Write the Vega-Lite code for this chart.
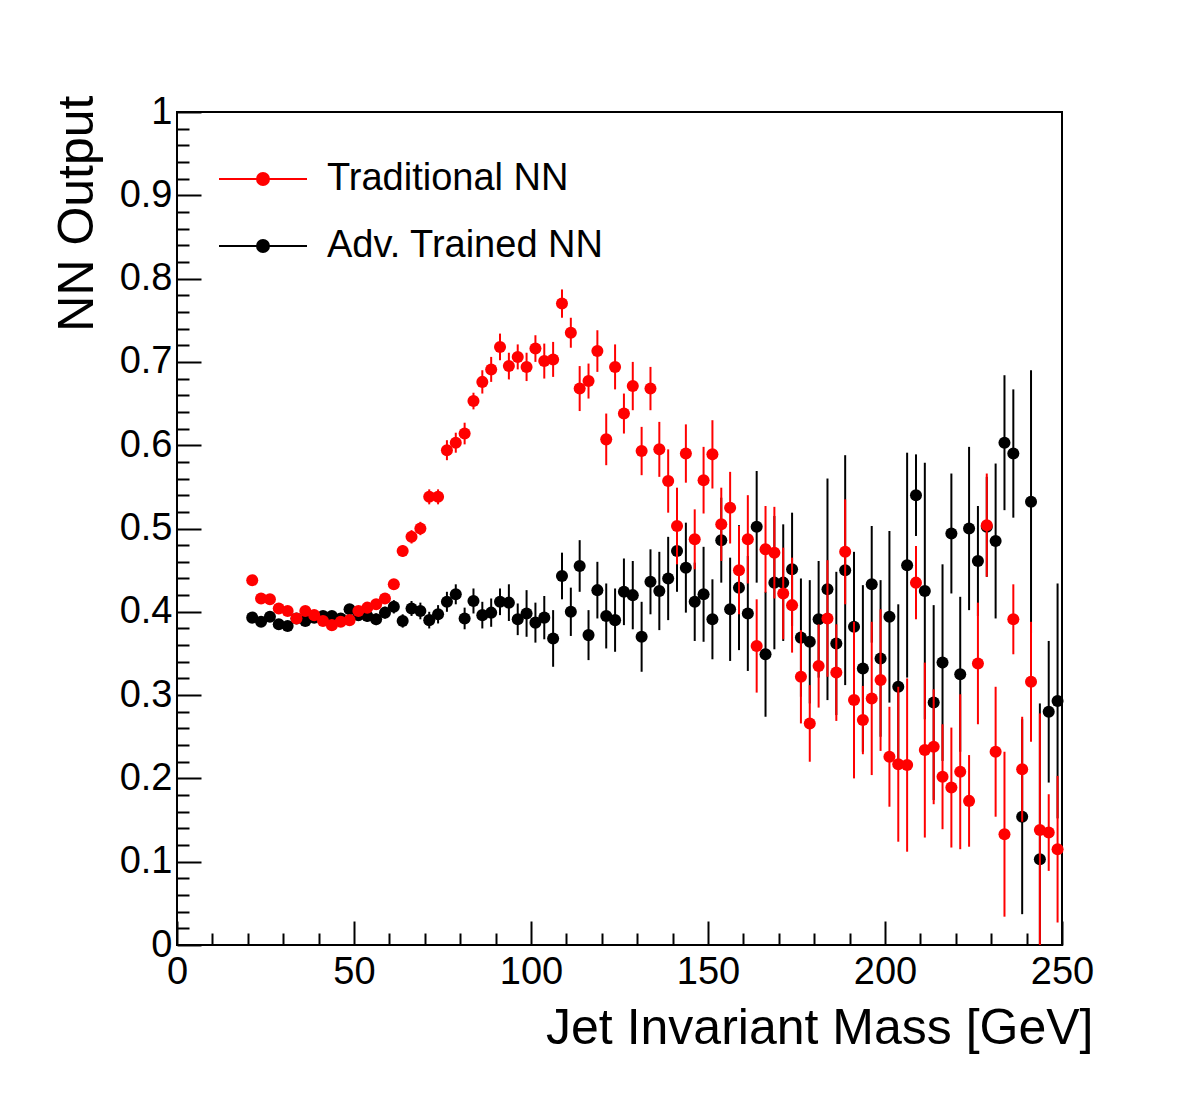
{
  "$schema": "https://vega.github.io/schema/vega-lite/v6.json",
  "width": 885,
  "height": 833,
  "autosize": {"type": "none"},
  "padding": {"left": 177, "top": 112, "right": 120, "bottom": 168},
  "background": "white",
  "config": {
    "font": "Liberation Sans",
    "view": {"stroke": "#000000", "strokeWidth": 2},
    "axis": {
      "grid": false,
      "domain": false,
      "tickColor": "#000000",
      "tickWidth": 2,
      "labelColor": "#000000",
      "titleColor": "#000000",
      "labelFont": "Liberation Sans",
      "titleFont": "Liberation Sans",
      "labelFontSize": 38,
      "titleFontSize": 50,
      "titleFontWeight": "normal",
      "labelOverlap": false,
      "labelBound": false,
      "labelFlush": false
    }
  },
  "datasets": {
    "trad": [
      {"m": 21.25, "v": 0.438, "e": 0.004}, {"m": 23.75, "v": 0.416, "e": 0.004}, {"m": 26.25, "v": 0.415, "e": 0.004},
      {"m": 28.75, "v": 0.404, "e": 0.004}, {"m": 31.25, "v": 0.401, "e": 0.004}, {"m": 33.75, "v": 0.392, "e": 0.004},
      {"m": 36.25, "v": 0.401, "e": 0.004}, {"m": 38.75, "v": 0.396, "e": 0.004}, {"m": 41.25, "v": 0.389, "e": 0.004},
      {"m": 43.75, "v": 0.384, "e": 0.005}, {"m": 46.25, "v": 0.388, "e": 0.005}, {"m": 48.75, "v": 0.390, "e": 0.005},
      {"m": 51.25, "v": 0.401, "e": 0.005}, {"m": 53.75, "v": 0.405, "e": 0.005}, {"m": 56.25, "v": 0.409, "e": 0.005},
      {"m": 58.75, "v": 0.416, "e": 0.006}, {"m": 61.25, "v": 0.433, "e": 0.006}, {"m": 63.75, "v": 0.473, "e": 0.007},
      {"m": 66.25, "v": 0.490, "e": 0.008}, {"m": 68.75, "v": 0.500, "e": 0.008}, {"m": 71.25, "v": 0.538, "e": 0.009},
      {"m": 73.75, "v": 0.538, "e": 0.009}, {"m": 76.25, "v": 0.594, "e": 0.012}, {"m": 78.75, "v": 0.603, "e": 0.012},
      {"m": 81.25, "v": 0.614, "e": 0.013}, {"m": 83.75, "v": 0.653, "e": 0.010}, {"m": 86.25, "v": 0.676, "e": 0.014},
      {"m": 88.75, "v": 0.691, "e": 0.015}, {"m": 91.25, "v": 0.718, "e": 0.016}, {"m": 93.75, "v": 0.695, "e": 0.016},
      {"m": 96.25, "v": 0.706, "e": 0.015}, {"m": 98.75, "v": 0.694, "e": 0.017}, {"m": 101.25, "v": 0.716, "e": 0.016},
      {"m": 103.75, "v": 0.701, "e": 0.021}, {"m": 106.25, "v": 0.703, "e": 0.021}, {"m": 108.75, "v": 0.770, "e": 0.017},
      {"m": 111.25, "v": 0.735, "e": 0.018}, {"m": 113.75, "v": 0.668, "e": 0.027}, {"m": 116.25, "v": 0.677, "e": 0.021},
      {"m": 118.75, "v": 0.713, "e": 0.025}, {"m": 121.25, "v": 0.607, "e": 0.031}, {"m": 123.75, "v": 0.694, "e": 0.027},
      {"m": 126.25, "v": 0.638, "e": 0.024}, {"m": 128.75, "v": 0.671, "e": 0.029}, {"m": 131.25, "v": 0.593, "e": 0.029},
      {"m": 133.75, "v": 0.668, "e": 0.026}, {"m": 136.25, "v": 0.595, "e": 0.033}, {"m": 138.75, "v": 0.557, "e": 0.038},
      {"m": 141.25, "v": 0.503, "e": 0.046}, {"m": 143.75, "v": 0.590, "e": 0.035}, {"m": 146.25, "v": 0.487, "e": 0.036},
      {"m": 148.75, "v": 0.558, "e": 0.040}, {"m": 151.25, "v": 0.589, "e": 0.041}, {"m": 153.75, "v": 0.505, "e": 0.044},
      {"m": 156.25, "v": 0.525, "e": 0.043}, {"m": 158.75, "v": 0.450, "e": 0.053}, {"m": 161.25, "v": 0.487, "e": 0.053},
      {"m": 163.75, "v": 0.359, "e": 0.056}, {"m": 166.25, "v": 0.475, "e": 0.052}, {"m": 168.75, "v": 0.471, "e": 0.055},
      {"m": 171.25, "v": 0.422, "e": 0.055}, {"m": 173.75, "v": 0.408, "e": 0.057}, {"m": 176.25, "v": 0.322, "e": 0.056},
      {"m": 178.75, "v": 0.266, "e": 0.046}, {"m": 181.25, "v": 0.335, "e": 0.050}, {"m": 183.75, "v": 0.392, "e": 0.070},
      {"m": 186.25, "v": 0.327, "e": 0.058}, {"m": 188.75, "v": 0.472, "e": 0.063}, {"m": 191.25, "v": 0.294, "e": 0.094},
      {"m": 193.75, "v": 0.270, "e": 0.041}, {"m": 196.25, "v": 0.296, "e": 0.092}, {"m": 198.75, "v": 0.318, "e": 0.085},
      {"m": 201.25, "v": 0.226, "e": 0.060}, {"m": 203.75, "v": 0.217, "e": 0.093}, {"m": 206.25, "v": 0.216, "e": 0.104},
      {"m": 208.75, "v": 0.435, "e": 0.044}, {"m": 211.25, "v": 0.234, "e": 0.105}, {"m": 213.75, "v": 0.238, "e": 0.069},
      {"m": 216.25, "v": 0.202, "e": 0.063}, {"m": 218.75, "v": 0.189, "e": 0.072}, {"m": 221.25, "v": 0.208, "e": 0.093},
      {"m": 223.75, "v": 0.173, "e": 0.055}, {"m": 226.25, "v": 0.338, "e": 0.073}, {"m": 228.75, "v": 0.504, "e": 0.062},
      {"m": 231.25, "v": 0.232, "e": 0.078}, {"m": 233.75, "v": 0.133, "e": 0.099}, {"m": 236.25, "v": 0.391, "e": 0.042},
      {"m": 238.75, "v": 0.211, "e": 0.063}, {"m": 241.25, "v": 0.316, "e": 0.072}, {"m": 243.75, "v": 0.138, "e": 0.140},
      {"m": 246.25, "v": 0.135, "e": 0.046}, {"m": 248.75, "v": 0.115, "e": 0.088}
    ],
    "adv": [
      {"m": 21.25, "v": 0.393, "e": 0.004}, {"m": 23.75, "v": 0.388, "e": 0.004}, {"m": 26.25, "v": 0.394, "e": 0.004},
      {"m": 28.75, "v": 0.385, "e": 0.004}, {"m": 31.25, "v": 0.383, "e": 0.005}, {"m": 33.75, "v": 0.392, "e": 0.005},
      {"m": 36.25, "v": 0.389, "e": 0.005}, {"m": 38.75, "v": 0.393, "e": 0.005}, {"m": 41.25, "v": 0.395, "e": 0.006},
      {"m": 43.75, "v": 0.395, "e": 0.006}, {"m": 46.25, "v": 0.392, "e": 0.006}, {"m": 48.75, "v": 0.403, "e": 0.006},
      {"m": 51.25, "v": 0.396, "e": 0.006}, {"m": 53.75, "v": 0.395, "e": 0.007}, {"m": 56.25, "v": 0.391, "e": 0.007},
      {"m": 58.75, "v": 0.399, "e": 0.007}, {"m": 61.25, "v": 0.406, "e": 0.008}, {"m": 63.75, "v": 0.389, "e": 0.008},
      {"m": 66.25, "v": 0.404, "e": 0.009}, {"m": 68.75, "v": 0.401, "e": 0.010}, {"m": 71.25, "v": 0.390, "e": 0.010},
      {"m": 73.75, "v": 0.397, "e": 0.011}, {"m": 76.25, "v": 0.412, "e": 0.012}, {"m": 78.75, "v": 0.421, "e": 0.012},
      {"m": 81.25, "v": 0.392, "e": 0.013}, {"m": 83.75, "v": 0.413, "e": 0.015}, {"m": 86.25, "v": 0.396, "e": 0.016},
      {"m": 88.75, "v": 0.399, "e": 0.017}, {"m": 91.25, "v": 0.412, "e": 0.016}, {"m": 93.75, "v": 0.411, "e": 0.022},
      {"m": 96.25, "v": 0.391, "e": 0.019}, {"m": 98.75, "v": 0.398, "e": 0.028}, {"m": 101.25, "v": 0.387, "e": 0.024},
      {"m": 103.75, "v": 0.393, "e": 0.026}, {"m": 106.25, "v": 0.368, "e": 0.034}, {"m": 108.75, "v": 0.443, "e": 0.028},
      {"m": 111.25, "v": 0.400, "e": 0.029}, {"m": 113.75, "v": 0.455, "e": 0.031}, {"m": 116.25, "v": 0.372, "e": 0.030},
      {"m": 118.75, "v": 0.426, "e": 0.034}, {"m": 121.25, "v": 0.395, "e": 0.039}, {"m": 123.75, "v": 0.390, "e": 0.038},
      {"m": 126.25, "v": 0.424, "e": 0.040}, {"m": 128.75, "v": 0.420, "e": 0.041}, {"m": 131.25, "v": 0.370, "e": 0.042},
      {"m": 133.75, "v": 0.436, "e": 0.039}, {"m": 136.25, "v": 0.425, "e": 0.047}, {"m": 138.75, "v": 0.440, "e": 0.050},
      {"m": 141.25, "v": 0.473, "e": 0.049}, {"m": 143.75, "v": 0.453, "e": 0.054}, {"m": 146.25, "v": 0.412, "e": 0.047},
      {"m": 148.75, "v": 0.421, "e": 0.057}, {"m": 151.25, "v": 0.391, "e": 0.048}, {"m": 153.75, "v": 0.486, "e": 0.051},
      {"m": 156.25, "v": 0.403, "e": 0.062}, {"m": 158.75, "v": 0.429, "e": 0.075}, {"m": 161.25, "v": 0.398, "e": 0.069},
      {"m": 163.75, "v": 0.502, "e": 0.067}, {"m": 166.25, "v": 0.349, "e": 0.075}, {"m": 168.75, "v": 0.435, "e": 0.080},
      {"m": 171.25, "v": 0.435, "e": 0.070}, {"m": 173.75, "v": 0.451, "e": 0.068}, {"m": 176.25, "v": 0.369, "e": 0.071},
      {"m": 178.75, "v": 0.364, "e": 0.074}, {"m": 181.25, "v": 0.391, "e": 0.070}, {"m": 183.75, "v": 0.427, "e": 0.133},
      {"m": 186.25, "v": 0.362, "e": 0.086}, {"m": 188.75, "v": 0.450, "e": 0.138}, {"m": 191.25, "v": 0.382, "e": 0.090},
      {"m": 193.75, "v": 0.332, "e": 0.100}, {"m": 196.25, "v": 0.433, "e": 0.070}, {"m": 198.75, "v": 0.344, "e": 0.094},
      {"m": 201.25, "v": 0.394, "e": 0.103}, {"m": 203.75, "v": 0.310, "e": 0.099}, {"m": 206.25, "v": 0.456, "e": 0.135},
      {"m": 208.75, "v": 0.540, "e": 0.049}, {"m": 211.25, "v": 0.425, "e": 0.154}, {"m": 213.75, "v": 0.291, "e": 0.117},
      {"m": 216.25, "v": 0.339, "e": 0.118}, {"m": 218.75, "v": 0.494, "e": 0.072}, {"m": 221.25, "v": 0.325, "e": 0.093},
      {"m": 223.75, "v": 0.500, "e": 0.098}, {"m": 226.25, "v": 0.461, "e": 0.066}, {"m": 228.75, "v": 0.502, "e": 0.060},
      {"m": 231.25, "v": 0.485, "e": 0.093}, {"m": 233.75, "v": 0.603, "e": 0.081}, {"m": 236.25, "v": 0.590, "e": 0.077},
      {"m": 238.75, "v": 0.154, "e": 0.117}, {"m": 241.25, "v": 0.532, "e": 0.158}, {"m": 243.75, "v": 0.103, "e": 0.187},
      {"m": 246.25, "v": 0.280, "e": 0.085}, {"m": 248.75, "v": 0.293, "e": 0.141}
    ]
  },
  "layer": [
    {
      "data": {"name": "adv"},
      "mark": {"type": "errorbar", "thickness": 2},
      "encoding": {
        "x": {"field": "m", "type": "quantitative", "scale": {"domain": [0, 250], "nice": false}, "axis": null},
        "y": {"field": "v", "type": "quantitative", "scale": {"domain": [0, 1], "nice": false, "clamp": true}, "axis": null},
        "yError": {"field": "e"},
        "color": {
          "datum": "Adv. Trained NN",
          "scale": {"domain": ["Traditional NN", "Adv. Trained NN"], "range": ["#ff0000", "#000000"]},
          "legend": {
            "orient": "none",
            "legendX": 50,
            "legendY": 31,
            "title": null,
            "padding": 15,
            "rowPadding": 27,
            "symbolType": "M-2.2,0L2.2,0M0.3,0A0.3,0.3,0,1,1,-0.3,0A0.3,0.3,0,1,1,0.3,0Z",
            "symbolSize": 1600,
            "symbolStrokeWidth": 2,
            "labelFont": "Liberation Sans",
            "labelFontSize": 38,
            "labelColor": "#000000",
            "labelOffset": 43,
            "labelLimit": 500,
            "encode": {
              "symbols": {
                "update": {
                  "stroke": {"scale": "color", "field": "value"},
                  "fill": {"scale": "color", "field": "value"},
                  "opacity": {"value": 1}
                }
              }
            }
          }
        }
      }
    },
    {
      "data": {"name": "adv"},
      "mark": {"type": "point", "filled": true, "size": 145, "opacity": 1, "shape": "circle"},
      "encoding": {
        "x": {
          "field": "m", "type": "quantitative",
          "axis": {
            "orient": "bottom",
            "values": [0, 50, 100, 150, 200, 250],
            "format": "d",
            "tickSize": -24,
            "labelPadding": 62,
            "labelBaseline": "alphabetic",
            "title": "Jet Invariant Mass [GeV]",
            "titleX": 916,
            "titleY": 98,
            "titleAngle": 0,
            "titleAlign": "right",
            "titleBaseline": "alphabetic"
          }
        },
        "y": {
          "field": "v", "type": "quantitative",
          "axis": {
            "orient": "left",
            "values": [0, 0.1, 0.2, 0.3, 0.4, 0.5, 0.6, 0.7, 0.8, 0.9, 1],
            "format": "~g",
            "tickSize": -24,
            "labelPadding": 29,
            "labelAlign": "right",
            "labelBaseline": "middle",
            "title": "NN Output",
            "titleX": -85,
            "titleY": -17,
            "titleAngle": 270,
            "titleAlign": "right",
            "titleBaseline": "alphabetic"
          }
        },
        "color": {"datum": "Adv. Trained NN"}
      }
    },
    {
      "data": {"name": "trad"},
      "mark": {"type": "errorbar", "thickness": 2},
      "encoding": {
        "x": {"field": "m", "type": "quantitative", "axis": null},
        "y": {"field": "v", "type": "quantitative", "axis": null},
        "yError": {"field": "e"},
        "color": {"datum": "Traditional NN"}
      }
    },
    {
      "data": {"name": "trad"},
      "mark": {"type": "point", "filled": true, "size": 145, "opacity": 1, "shape": "circle"},
      "encoding": {
        "x": {
          "field": "m", "type": "quantitative",
          "axis": {
            "orient": "bottom",
            "values": [10, 20, 30, 40, 60, 70, 80, 90, 110, 120, 130, 140, 160, 170, 180, 190, 210, 220, 230, 240],
            "tickSize": -12,
            "labels": false,
            "title": null
          }
        },
        "y": {
          "field": "v", "type": "quantitative",
          "axis": {
            "orient": "left",
            "values": [0.02, 0.04, 0.06, 0.08, 0.12, 0.14, 0.16, 0.18, 0.22, 0.24, 0.26, 0.28, 0.32, 0.34, 0.36, 0.38, 0.42, 0.44, 0.46, 0.48, 0.52, 0.54, 0.56, 0.58, 0.62, 0.64, 0.66, 0.68, 0.72, 0.74, 0.76, 0.78, 0.82, 0.84, 0.86, 0.88, 0.92, 0.94, 0.96, 0.98],
            "tickSize": -12,
            "labels": false,
            "title": null
          }
        },
        "color": {"datum": "Traditional NN"}
      }
    }
  ],
  "resolve": {"axis": {"x": "independent", "y": "independent"}}
}
